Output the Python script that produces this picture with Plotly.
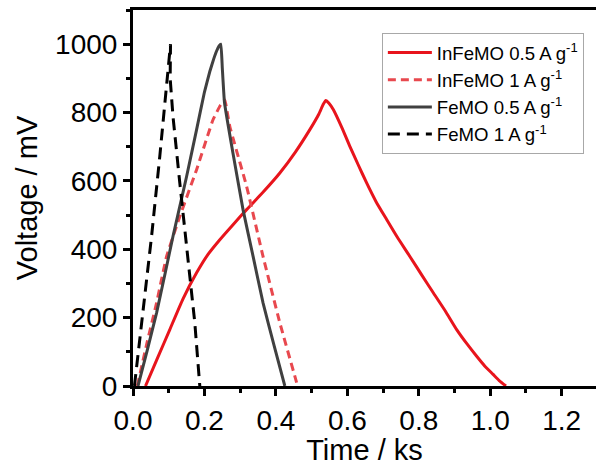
import plotly.graph_objects as go

# InFeMO 0.5 A g-1 (red solid)
t_in05 = [0.035, 0.070, 0.103, 0.140, 0.178, 0.210, 0.243, 0.280, 0.318, 0.365, 0.411, 0.455, 0.495, 0.520, 0.533, 0.540, 0.548, 0.561, 0.585, 0.607, 0.630, 0.654, 0.680, 0.710, 0.740, 0.775, 0.808, 0.841, 0.875, 0.906, 0.935, 0.962, 0.985, 1.008, 1.025, 1.044]
v_in05 = [0, 85, 165, 255, 331, 385, 428, 472, 516, 568, 623, 685, 750, 795, 825, 835, 828, 808, 755, 701, 648, 594, 540, 487, 435, 379, 325, 272, 218, 165, 123, 87, 58, 34, 16, 0]

# InFeMO 1 A g-1 (red dashed)
t_in1 = [0.012, 0.040, 0.066, 0.094, 0.131, 0.178, 0.224, 0.245, 0.257, 0.264, 0.271, 0.318, 0.364, 0.411, 0.458]
v_in1 = [0, 130, 243, 379, 496, 633, 779, 822, 837, 800, 759, 584, 379, 185, 10]

# FeMO 0.5 A g-1 (grey solid)
t_fe05 = [0.014, 0.040, 0.066, 0.090, 0.112, 0.150, 0.178, 0.200, 0.215, 0.226, 0.234, 0.241, 0.246, 0.250, 0.256, 0.280, 0.308, 0.336, 0.364, 0.395, 0.425]
v_fe05 = [0, 105, 214, 330, 438, 613, 750, 860, 920, 957, 980, 995, 1000, 930, 830, 680, 516, 380, 243, 118, 0]

# FeMO 1 A g-1 (black dashed)
t_fe1 = [0.004, 0.028, 0.052, 0.075, 0.092, 0.100, 0.105, 0.104, 0.112, 0.131, 0.154, 0.173, 0.187]
v_fe1 = [0, 214, 438, 672, 866, 955, 1000, 900, 788, 594, 360, 185, 0]

names = ["InFeMO 0.5 A g<sup>-1</sup>", "InFeMO 1 A g<sup>-1</sup>",
         "FeMO 0.5 A g<sup>-1</sup>", "FeMO 1 A g<sup>-1</sup>"]

FONT = "Liberation Sans, Arial, sans-serif"

fig = go.Figure()
fig.add_trace(go.Scatter(x=t_in05, y=v_in05, mode="lines", name=names[0],
                         line=dict(color="#e8141c", width=3, shape="spline", smoothing=0.5)))
fig.add_trace(go.Scatter(x=t_in1, y=v_in1, mode="lines", name=names[1],
                         line=dict(color="#e8484e", width=3, dash="8px,5px", shape="spline", smoothing=0.3)))
fig.add_trace(go.Scatter(x=t_fe05, y=v_fe05, mode="lines", name=names[2],
                         line=dict(color="#404040", width=3, shape="spline", smoothing=0.3)))
fig.add_trace(go.Scatter(x=t_fe1, y=v_fe1, mode="lines", name=names[3],
                         line=dict(color="#000000", width=3, dash="12px,7px")))

fig.update_layout(
    width=596, height=466,
    margin=dict(l=133, r=0, t=10, b=80, autoexpand=False),
    paper_bgcolor="white", plot_bgcolor="white",
    font=dict(family=FONT, color="black"),
    showlegend=True,
    legend=dict(x=0.5375, y=0.939, xanchor="left", yanchor="top",
                bgcolor="white", bordercolor="#a8a8a8", borderwidth=1,
                font=dict(size=18.6, family=FONT), tracegroupgap=0,
                itemwidth=44),
    xaxis=dict(range=[0, 1.296], tickvals=[0, 0.2, 0.4, 0.6, 0.8, 1.0, 1.2],
               ticktext=["0.0", "0.2", "0.4", "0.6", "0.8", "1.0", "1.2"],
               ticks="outside", ticklen=7, tickwidth=2.5, tickcolor="black",
               minor=dict(dtick=0.1, ticks="outside", ticklen=4, tickwidth=2.5, tickcolor="black"),
               showline=True, linecolor="black", linewidth=3, mirror=True,
               showgrid=False, zeroline=False, automargin=False,
               tickfont=dict(size=28), title=dict(text="Time / ks", font=dict(size=29), standoff=3)),
    yaxis=dict(range=[0, 1100], tickvals=[0, 200, 400, 600, 800, 1000],
               ticks="outside", ticklen=7, tickwidth=2.5, tickcolor="black",
               minor=dict(dtick=100, ticks="outside", ticklen=4, tickwidth=2.5, tickcolor="black"),
               showline=True, linecolor="black", linewidth=3,
               showgrid=False, zeroline=False, automargin=False,
               tickfont=dict(size=28), title=dict(text="Voltage / mV", font=dict(size=29), standoff=9)),
)

fig.write_html("out.html", config={"displayModeBar": False},
               post_script="document.body.style.margin='0px';")
